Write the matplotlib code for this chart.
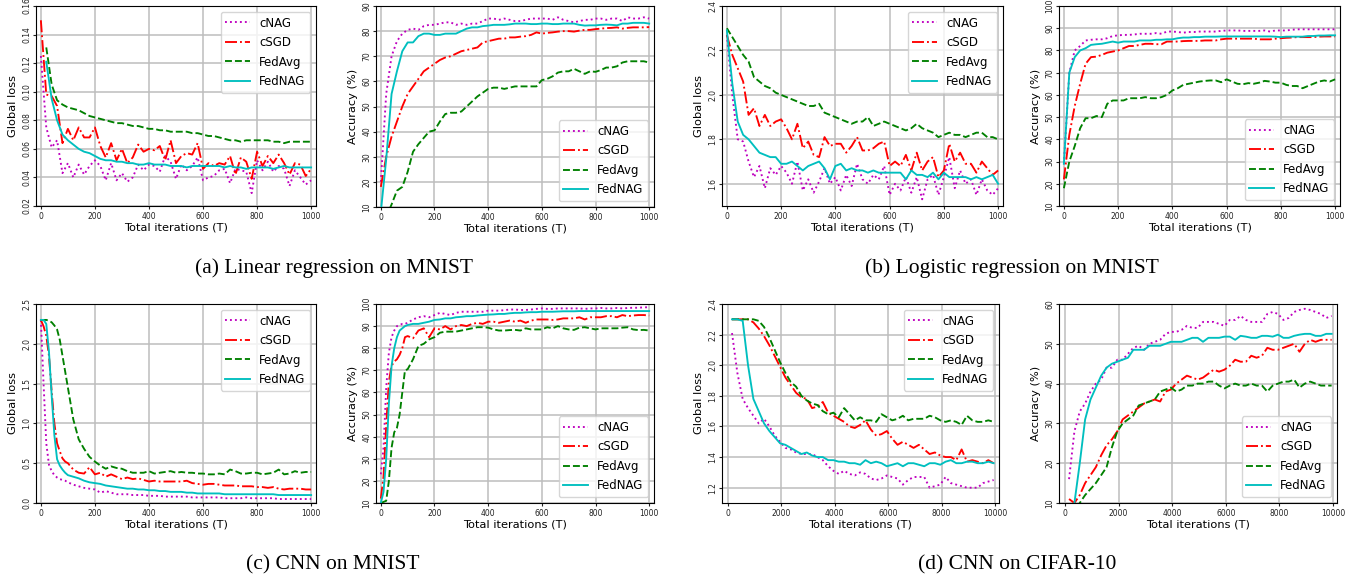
import numpy as np
from matplotlib import pyplot as plt

# Constants
FIG_W, FIG_H = 1358, 582
DPI = 100
LABELS = ['cNAG', 'cSGD', 'FedAvg', 'FedNAG']
STYLES = [':', '-.', '--', '-']
COLORS = ['m', 'r', 'g', 'c']

# x values
X_MNIST = list(range(0, 1001, 20))
X_MNIST_FED = X_MNIST[1:]
X_FINE = list(range(0, 100, 10)) + list(range(100, 1001, 20))
X_CIFAR = list(range(150, 10000, 200))

# (a) Linear regression on MNIST - loss
A_LOSS_CNAG = [0.125, 0.075, 0.061, 0.066, 0.043, 0.050, 0.040, 0.049, 0.042, 0.048,
               0.052, 0.048, 0.038, 0.050, 0.038, 0.043, 0.037, 0.040, 0.049, 0.045,
               0.049, 0.048, 0.044, 0.055, 0.051, 0.039, 0.049, 0.045, 0.048, 0.054,
               0.038, 0.040, 0.041, 0.045, 0.046, 0.036, 0.046, 0.045, 0.044, 0.029,
               0.052, 0.045, 0.051, 0.044, 0.048, 0.046, 0.034, 0.045, 0.040, 0.035,
               0.038]
A_LOSS_CSGD = [0.150, 0.098, 0.097, 0.090, 0.064, 0.074, 0.066, 0.075, 0.068, 0.068,
               0.075, 0.062, 0.054, 0.064, 0.052, 0.060, 0.050, 0.054, 0.063, 0.058,
               0.060, 0.059, 0.062, 0.052, 0.066, 0.050, 0.055, 0.057, 0.056, 0.064,
               0.046, 0.050, 0.048, 0.050, 0.049, 0.055, 0.042, 0.054, 0.051, 0.039,
               0.058, 0.048, 0.055, 0.050, 0.056, 0.050, 0.042, 0.050, 0.049, 0.041,
               0.046]
A_LOSS_FEDAVG = [0.131, 0.105, 0.094, 0.091, 0.089, 0.088, 0.087, 0.085, 0.083, 0.082,
                 0.081, 0.080, 0.079, 0.078, 0.078, 0.077, 0.076, 0.076, 0.075, 0.074,
                 0.074, 0.073, 0.073, 0.072, 0.072, 0.072, 0.072, 0.071, 0.071, 0.070,
                 0.069, 0.069, 0.068, 0.067, 0.066, 0.066, 0.065, 0.066, 0.066, 0.066,
                 0.066, 0.066, 0.065, 0.065, 0.064, 0.065, 0.065, 0.065, 0.065, 0.065]
A_LOSS_FEDNAG = [0.121, 0.095, 0.080, 0.070, 0.066, 0.063, 0.060, 0.058, 0.057, 0.055,
                 0.053, 0.052, 0.052, 0.051, 0.051, 0.050, 0.050, 0.049, 0.049, 0.050,
                 0.049, 0.049, 0.049, 0.048, 0.048, 0.048, 0.047, 0.048, 0.048, 0.048,
                 0.048, 0.048, 0.048, 0.047, 0.048, 0.047, 0.047, 0.046, 0.047, 0.047,
                 0.047, 0.047, 0.046, 0.047, 0.048, 0.047, 0.047, 0.047, 0.047, 0.047]

# (a) Linear regression on MNIST - accuracy
A_ACC_CNAG = [20, 55, 70, 76, 79, 80.5, 81, 80.5, 82, 82.5,
              82.5, 83, 83.5, 83.5, 82.5, 83, 82.5, 83, 83, 84,
              85, 85, 84.5, 85, 84.5, 84, 84, 84.5, 85, 85,
              85, 85, 84.5, 85.5, 84.5, 84, 83.5, 84, 84.5, 84.5,
              85, 85, 84.5, 85, 85, 84, 85.5, 85, 85, 85.5,
              85]
A_ACC_CSGD = [18, 30, 38, 44, 50, 55, 58, 61, 64, 65.5,
              67, 68.5, 69.5, 70, 71, 72, 72.5, 73, 73.5, 75.5,
              76, 76.5, 77, 77, 77.5, 77.5, 77.8, 78, 78.5, 79.5,
              79, 79.3, 79.5, 79.8, 80, 80, 79.8, 80.2, 80.5, 80.5,
              80.8, 81, 81.2, 81.3, 81.5, 81, 81.3, 81.5, 81.5, 81.5,
              81.6]
A_ACC_FEDAVG = [2, 6, 11, 16.5, 18, 24, 32, 35, 37.5, 40,
                40.5, 44, 47, 47.5, 47.5, 48, 50, 52, 54, 55.5,
                57, 57.5, 57.5, 57, 57.5, 58, 58, 58, 58, 58,
                60.5, 61, 62, 63.5, 64, 64, 65, 64, 63, 64,
                63.8, 64.5, 65.5, 65.5, 66, 67.5, 68, 68, 68, 68,
                67.5]
A_ACC_FEDNAG = [8, 29, 55, 64, 72, 75.5, 75.5, 78, 79, 79,
                78.5, 78.5, 79, 79, 79, 80, 81, 81.5, 81.5, 82,
                82.2, 82.5, 82.5, 82.5, 82.7, 83, 83, 83, 82.8, 82.8,
                83, 83, 82.8, 82.8, 83, 83, 83, 82.5, 82.2, 82.3,
                82.3, 82.5, 82.6, 82.5, 82.3, 83, 83, 83.3, 83.3, 83.3,
                83]

# (b) Logistic regression on MNIST - loss
B_LOSS_CNAG = [2.27, 2.00, 1.80, 1.79, 1.70, 1.63, 1.68, 1.58, 1.67, 1.64,
               1.68, 1.65, 1.60, 1.70, 1.57, 1.62, 1.56, 1.61, 1.67, 1.60,
               1.63, 1.57, 1.64, 1.59, 1.69, 1.62, 1.60, 1.64, 1.62, 1.68,
               1.55, 1.60, 1.57, 1.63, 1.56, 1.63, 1.53, 1.62, 1.64, 1.55,
               1.63, 1.72, 1.58, 1.66, 1.60, 1.62, 1.55, 1.62, 1.57, 1.55,
               1.58]
B_LOSS_CSGD = [2.27, 2.18, 2.12, 2.06, 1.91, 1.94, 1.86, 1.91, 1.86, 1.88,
               1.89, 1.85, 1.80, 1.87, 1.76, 1.79, 1.73, 1.72, 1.81, 1.77,
               1.78, 1.78, 1.74, 1.77, 1.81, 1.75, 1.75, 1.76, 1.78, 1.79,
               1.68, 1.70, 1.68, 1.73, 1.66, 1.74, 1.66, 1.70, 1.72, 1.63,
               1.66, 1.78, 1.70, 1.74, 1.69, 1.69, 1.65, 1.70, 1.67, 1.64,
               1.66]
B_LOSS_FEDAVG = [2.30, 2.26, 2.22, 2.18, 2.15, 2.08, 2.06, 2.04, 2.03, 2.01,
                 2.00, 1.99, 1.98, 1.97, 1.96, 1.95, 1.95, 1.96, 1.92, 1.91,
                 1.90, 1.89, 1.88, 1.87, 1.88, 1.88, 1.90, 1.86, 1.87, 1.88,
                 1.87, 1.86, 1.85, 1.84, 1.85, 1.87, 1.85, 1.84, 1.83, 1.81,
                 1.82, 1.83, 1.82, 1.82, 1.81, 1.82, 1.83, 1.83, 1.81, 1.81,
                 1.80]
B_LOSS_FEDNAG = [2.29, 2.05, 1.88, 1.82, 1.80, 1.77, 1.74, 1.73, 1.72, 1.72,
                 1.69, 1.69, 1.70, 1.68, 1.66, 1.68, 1.69, 1.70, 1.67, 1.62,
                 1.68, 1.69, 1.66, 1.67, 1.66, 1.66, 1.65, 1.66, 1.65, 1.65,
                 1.65, 1.65, 1.65, 1.62, 1.66, 1.64, 1.64, 1.63, 1.65, 1.62,
                 1.65, 1.63, 1.63, 1.63, 1.63, 1.62, 1.63, 1.62, 1.63, 1.64,
                 1.60]

# (b) Logistic regression on MNIST - accuracy
B_ACC_CNAG = [29, 70, 80, 82, 84.5, 84.8, 85, 85, 85.5, 86.5,
              86.8, 87, 87, 87.2, 87.5, 87.5, 87.5, 87.8, 87.5, 88.5,
              88.5, 88.3, 88, 88.3, 88.3, 88.5, 88.5, 88.5, 88.5, 88.8,
              89, 89, 89, 88.8, 88.8, 88.8, 88.8, 89, 88.5, 89,
              89, 89, 89.3, 89.5, 89.5, 89.5, 89.5, 89.5, 89.5, 89.5,
              89.5]
B_ACC_CSGD = [22, 42, 55, 65, 74, 77, 77.2, 78, 79, 79.5,
              80, 81, 82, 82, 82.5, 83, 83, 82.8, 82.8, 84,
              84, 84, 84.2, 84.3, 84.3, 84.3, 84.5, 84.5, 84.5, 85,
              85.3, 85.3, 85.3, 85.3, 85.3, 85.3, 85, 85, 85, 85.3,
              85.5, 85.7, 85.8, 86, 86, 86, 86, 86.2, 86.3, 86.3,
              86.3]
B_ACC_FEDAVG = [18, 30, 37, 45, 49.5, 49.5, 50.5, 50, 56, 57.5,
                57.5, 57.5, 58.5, 58.5, 58.5, 59, 58.5, 58.5, 59, 60,
                62, 63, 64.5, 65, 65.5, 66, 66.3, 66.5, 66.5, 65.7,
                67, 66, 65, 64.8, 65.3, 65, 65.5, 66.3, 66, 65.5,
                65.5, 64.5, 64, 64, 63, 64, 65, 66, 66.5, 66,
                67]
B_ACC_FEDNAG = [29, 70, 77, 80, 81, 82.5, 82.8, 83, 83.5, 84,
                83.5, 84, 84, 84, 84.5, 84.5, 84.5, 84.8, 84.8, 85,
                85, 85.5, 85.8, 85.8, 86, 86, 86.2, 86.2, 86.2, 86.3,
                86.3, 86.3, 86.3, 86.3, 86.3, 86.3, 86.3, 86.3, 86.3, 86.2,
                86, 86.2, 86.2, 86.2, 86.2, 86.5, 86.5, 86.7, 86.7, 86.8,
                86.8]

# (c) CNN on MNIST - loss
C_LOSS_CNAG = [2.30, 1.50, 0.75, 0.48, 0.40, 0.35, 0.32, 0.30, 0.29, 0.28,
               0.26, 0.23, 0.21, 0.19, 0.18, 0.17, 0.13, 0.15, 0.13, 0.11,
               0.11, 0.11, 0.10, 0.10, 0.10, 0.09, 0.09, 0.09, 0.08, 0.08,
               0.08, 0.08, 0.08, 0.07, 0.07, 0.07, 0.07, 0.07, 0.07, 0.06,
               0.06, 0.06, 0.06, 0.07, 0.06, 0.06, 0.06, 0.06, 0.06, 0.05,
               0.05, 0.05, 0.05, 0.05, 0.05, 0.05]
C_LOSS_CSGD = [2.30, 2.22, 2.10, 1.85, 1.40, 1.00, 0.75, 0.65, 0.56, 0.52,
               0.50, 0.42, 0.38, 0.37, 0.45, 0.36, 0.38, 0.33, 0.36, 0.33,
               0.30, 0.32, 0.30, 0.31, 0.29, 0.27, 0.28, 0.27, 0.27, 0.27,
               0.27, 0.27, 0.28, 0.25, 0.24, 0.23, 0.24, 0.24, 0.23, 0.22,
               0.22, 0.22, 0.21, 0.21, 0.21, 0.20, 0.20, 0.19, 0.20, 0.18,
               0.17, 0.18, 0.18, 0.18, 0.17, 0.17]
C_LOSS_FEDAVG = [2.30, 2.30, 2.30, 2.29, 2.27, 2.23, 2.18, 2.05, 1.85, 1.65,
                 1.45, 1.05, 0.80, 0.68, 0.58, 0.52, 0.47, 0.43, 0.46, 0.44,
                 0.43, 0.40, 0.38, 0.38, 0.38, 0.40, 0.37, 0.38, 0.39, 0.40,
                 0.38, 0.39, 0.38, 0.38, 0.37, 0.37, 0.36, 0.36, 0.37, 0.36,
                 0.42, 0.40, 0.37, 0.37, 0.38, 0.38, 0.36, 0.37, 0.38, 0.42,
                 0.36, 0.37, 0.40, 0.38, 0.39, 0.39]
C_LOSS_FEDNAG = [2.30, 2.30, 2.25, 1.90, 1.35, 0.85, 0.55, 0.47, 0.42, 0.38,
                 0.35, 0.33, 0.31, 0.28, 0.26, 0.25, 0.24, 0.22, 0.21, 0.20,
                 0.19, 0.18, 0.18, 0.17, 0.17, 0.16, 0.16, 0.15, 0.15, 0.14,
                 0.14, 0.14, 0.13, 0.13, 0.12, 0.12, 0.12, 0.12, 0.12, 0.11,
                 0.11, 0.11, 0.11, 0.11, 0.11, 0.11, 0.11, 0.11, 0.11, 0.10,
                 0.10, 0.10, 0.10, 0.10, 0.10, 0.10]

# (c) CNN on MNIST - accuracy
C_ACC_CNAG = [23, 35, 62, 78, 85, 88, 90, 90.5, 91, 91,
              91.5, 93, 94, 94.5, 94, 95, 96, 95.5, 95, 96,
              96.5, 96.5, 96.5, 96.5, 96.5, 97, 97, 97, 97.2, 97.5,
              97.5, 97.3, 97.3, 97.5, 97.8, 98, 97.8, 97.8, 98, 98,
              98, 98, 98, 97.8, 98, 98, 98.2, 98, 98, 98.2,
              98, 98.2, 98.3, 98.3, 98.5, 98.5]
C_ACC_CSGD = [12, 22, 45, 65, 72, 74, 75, 77, 80, 85,
              85.5, 84.5, 88, 89, 85, 89, 88.5, 90, 88.5, 90,
              90.5, 90, 91, 91.5, 91, 92, 92, 91.5, 92, 92.5,
              92, 92.5, 91.5, 92.5, 93, 93, 93, 92.8, 93, 93.5,
              93.5, 93.5, 94, 93, 94, 94, 94, 94.5, 94.5, 94,
              95, 94.5, 94.8, 95, 95, 94.8]
C_ACC_FEDAVG = [10, 10.5, 11, 20, 35, 42, 44, 50, 60, 70,
                70.5, 75, 81, 82, 84, 85, 87, 87.5, 87.5, 87.5,
                88, 88.5, 89, 89.5, 89.5, 89.3, 88.5, 88, 88, 88.2,
                88.3, 88, 89, 88.5, 88.5, 88.5, 89.5, 89, 90, 89,
                88.5, 88.3, 89.3, 89.5, 89, 88.5, 89, 89, 89, 89,
                89.3, 89.5, 88.5, 88.2, 88.3, 88]
C_ACC_FEDNAG = [10, 15, 30, 55, 72, 80, 85, 88, 89, 90,
                90.5, 91, 91, 91.5, 92, 92.8, 93, 93.5, 93.5, 94,
                94.2, 94.5, 94.5, 94.8, 95, 95.2, 95.3, 95.5, 95.5, 95.8,
                96, 96, 96.2, 96.3, 96.3, 96.5, 96.5, 96.5, 96.6, 96.7,
                96.7, 96.7, 96.8, 96.8, 96.8, 96.8, 96.8, 96.8, 96.8, 96.8,
                96.8, 96.8, 96.8, 96.8, 96.8, 96.8]

# (d) CNN on CIFAR-10 - loss
D_LOSS_CNAG = [2.21, 1.95, 1.78, 1.72, 1.67, 1.62, 1.65, 1.60, 1.54, 1.50,
               1.46, 1.45, 1.43, 1.42, 1.42, 1.42, 1.40, 1.38, 1.34, 1.31,
               1.29, 1.31, 1.29, 1.28, 1.30, 1.29, 1.26, 1.25, 1.26, 1.28,
               1.27, 1.26, 1.22, 1.25, 1.27, 1.27, 1.27, 1.20, 1.21, 1.22,
               1.27, 1.23, 1.22, 1.21, 1.20, 1.20, 1.20, 1.23, 1.24, 1.25]
D_LOSS_CSGD = [2.30, 2.30, 2.30, 2.30, 2.28, 2.24, 2.19, 2.13, 2.06, 1.99,
               1.92, 1.87, 1.82, 1.79, 1.78, 1.72, 1.73, 1.76, 1.69, 1.67,
               1.65, 1.63, 1.60, 1.59, 1.61, 1.64, 1.58, 1.54, 1.55, 1.57,
               1.52, 1.48, 1.50, 1.48, 1.46, 1.48, 1.45, 1.42, 1.43, 1.41,
               1.40, 1.40, 1.38, 1.45, 1.37, 1.38, 1.37, 1.36, 1.38, 1.36]
D_LOSS_FEDAVG = [2.30, 2.30, 2.30, 2.30, 2.30, 2.29, 2.25, 2.18, 2.10, 2.02,
                 1.95, 1.89, 1.86, 1.80, 1.77, 1.75, 1.74, 1.70, 1.68, 1.69,
                 1.66, 1.72, 1.68, 1.64, 1.66, 1.64, 1.64, 1.63, 1.68, 1.66,
                 1.64, 1.65, 1.67, 1.64, 1.65, 1.65, 1.65, 1.67, 1.66, 1.64,
                 1.63, 1.64, 1.63, 1.61, 1.67, 1.64, 1.63, 1.63, 1.64, 1.63]
D_LOSS_FEDNAG = [2.30, 2.30, 2.29, 2.00, 1.78, 1.70, 1.62, 1.57, 1.53, 1.49,
                 1.48, 1.46, 1.44, 1.42, 1.43, 1.41, 1.40, 1.40, 1.38, 1.38,
                 1.37, 1.37, 1.36, 1.36, 1.35, 1.38, 1.36, 1.37, 1.36, 1.34,
                 1.35, 1.36, 1.34, 1.36, 1.36, 1.35, 1.34, 1.36, 1.36, 1.35,
                 1.37, 1.38, 1.36, 1.36, 1.37, 1.37, 1.36, 1.36, 1.37, 1.36]

# (d) CNN on CIFAR-10 - accuracy
D_ACC_CNAG = [16, 28, 33, 35, 38, 40, 41, 44, 44, 46,
              46, 47.5, 49, 49.5, 48.5, 50, 50.5, 51, 52.5, 53,
              53, 53.5, 54.5, 54, 54, 55.5, 55.5, 55.5, 55, 54.5,
              56, 56, 57, 56, 55.5, 55.5, 55.5, 57.5, 58, 57.5,
              56, 56.5, 58, 58.5, 58.8, 58.5, 58, 57.5, 56.5, 57]
D_ACC_CSGD = [11, 10, 12, 15, 17, 19, 22, 24.5, 26, 28,
              31, 32, 33, 34, 35, 35.5, 36, 35.5, 38, 38.5,
              40, 41, 42, 41.5, 41, 41.5, 42.5, 43.5, 43, 43.5,
              44.5, 46, 45.5, 45.5, 47, 46.5, 47, 49, 48.5, 48.5,
              49, 49.5, 50, 48, 50, 51, 50.5, 51, 51, 51]
D_ACC_FEDAVG = [8, 8, 10, 12, 13.5, 15, 17, 19, 24, 28,
                30, 31, 32, 34.5, 35, 35.5, 36, 38, 38.5, 39,
                38, 38.5, 39.5, 39.5, 40, 40, 40.5, 40.5, 39.5, 38.8,
                39.5, 40, 39.5, 39.5, 40, 39.5, 39.5, 38, 39.5, 40,
                40.5, 40.5, 41, 39, 40, 40.5, 40, 39.5, 39.5, 39.5]
D_ACC_FEDNAG = [8, 10, 20, 31, 36, 39, 42, 44, 45, 45.5,
                46, 46.5, 48.5, 48.5, 48.5, 49.5, 49.5, 49.5, 50, 50.5,
                50.5, 50.5, 51, 51.5, 51.5, 50.5, 51.5, 51.5, 51.5, 51.8,
                51.8, 51, 52, 51.8, 51.5, 51.5, 52, 52, 51.8, 52.3,
                51.5, 51.5, 52, 52.3, 52.5, 52.5, 52, 52, 52.5, 52.5]


def add_axes_px(fig, left, top, right, bottom):
    """Adds an axes given its box in pixels from the top left corner"""
    return fig.add_axes([left / FIG_W, 1 - bottom / FIG_H,
                         (right - left) / FIG_W, (bottom - top) / FIG_H])


def draw_panel(ax, xs, series, ylabel, ylim, yticks, xlim, xticks, legend_loc):
    """Draws the four algorithms on one axes"""
    for x, y, label, ls, color in zip(xs, series, LABELS, STYLES, COLORS):
        ax.plot(x, y, linestyle=ls, color=color, lw=1.35, label=label)
    ax.set_xlim(*xlim)
    ax.set_ylim(*ylim)
    ax.set_xticks(xticks)
    ax.set_yticks(yticks)
    ax.grid(True, color='#bdbdbd', lw=1.1)
    ax.set_axisbelow(True)
    ax.tick_params(labelsize=5.5, length=2.5, width=0.8, colors='#222222')
    ax.tick_params(axis='x', pad=2)
    ax.tick_params(axis='y', labelrotation=90, pad=1)
    for lbl in ax.get_yticklabels():
        lbl.set_va('center')
    ax.set_xlabel('Total iterations (T)', fontsize=8.2, labelpad=1)
    ax.set_ylabel(ylabel, fontsize=8.2, labelpad=3)
    ax.legend(loc=legend_loc, fontsize=8.5, handlelength=2.1,
              handletextpad=0.75, borderpad=0.4, borderaxespad=0.5,
              labelspacing=0.55)


fig = plt.figure(figsize=(FIG_W / DPI, FIG_H / DPI), dpi=DPI)

MNIST_XLIM = (-18, 1018)
MNIST_XTICKS = list(range(0, 1001, 200))
CIFAR_XLIM = (-225, 10150)
CIFAR_XTICKS = list(range(0, 10001, 2000))

# Row 1
ax = add_axes_px(fig, 36, 6, 316, 206)
draw_panel(ax, [X_MNIST, X_MNIST, X_MNIST_FED, X_MNIST_FED],
           [A_LOSS_CNAG, A_LOSS_CSGD, A_LOSS_FEDAVG, A_LOSS_FEDNAG],
           'Global loss', (0.02, 0.16), np.arange(0.02, 0.161, 0.02),
           MNIST_XLIM, MNIST_XTICKS, 'upper right')
ax.set_yticklabels(['%.2f' % v for v in np.arange(0.02, 0.161, 0.02)],
                   va='center')

ax = add_axes_px(fig, 376, 6, 654, 207)
draw_panel(ax, [X_MNIST] * 4,
           [A_ACC_CNAG, A_ACC_CSGD, A_ACC_FEDAVG, A_ACC_FEDNAG],
           'Accuracy (%)', (10, 90), range(10, 91, 10),
           MNIST_XLIM, MNIST_XTICKS, 'lower right')

ax = add_axes_px(fig, 722, 6, 1003, 206)
draw_panel(ax, [X_MNIST] * 4,
           [B_LOSS_CNAG, B_LOSS_CSGD, B_LOSS_FEDAVG, B_LOSS_FEDNAG],
           'Global loss', (1.5, 2.4), [1.6, 1.8, 2.0, 2.2, 2.4],
           MNIST_XLIM, MNIST_XTICKS, 'upper right')

ax = add_axes_px(fig, 1059, 6, 1340, 206)
draw_panel(ax, [X_MNIST] * 4,
           [B_ACC_CNAG, B_ACC_CSGD, B_ACC_FEDAVG, B_ACC_FEDNAG],
           'Accuracy (%)', (10, 100), range(10, 101, 10),
           MNIST_XLIM, MNIST_XTICKS, 'lower right')

# Row 2
ax = add_axes_px(fig, 36, 304, 316, 503)
draw_panel(ax, [X_FINE] * 4,
           [C_LOSS_CNAG, C_LOSS_CSGD, C_LOSS_FEDAVG, C_LOSS_FEDNAG],
           'Global loss', (0, 2.5), [0, 0.5, 1.0, 1.5, 2.0, 2.5],
           MNIST_XLIM, MNIST_XTICKS, 'upper right')
ax.set_yticklabels(['0.0', '0.5', '1.0', '1.5', '2.0', '2.5'], va='center')

ax = add_axes_px(fig, 376, 304, 654, 503)
draw_panel(ax, [X_FINE] * 4,
           [C_ACC_CNAG, C_ACC_CSGD, C_ACC_FEDAVG, C_ACC_FEDNAG],
           'Accuracy (%)', (10, 100), range(10, 101, 10),
           MNIST_XLIM, MNIST_XTICKS, 'lower right')

ax = add_axes_px(fig, 722, 304, 999, 503)
draw_panel(ax, [X_CIFAR] * 4,
           [D_LOSS_CNAG, D_LOSS_CSGD, D_LOSS_FEDAVG, D_LOSS_FEDNAG],
           'Global loss', (1.1, 2.4), [1.2, 1.4, 1.6, 1.8, 2.0, 2.2, 2.4],
           CIFAR_XLIM, CIFAR_XTICKS, 'upper right')

ax = add_axes_px(fig, 1059, 304, 1337, 503)
draw_panel(ax, [X_CIFAR] * 4,
           [D_ACC_CNAG, D_ACC_CSGD, D_ACC_FEDAVG, D_ACC_FEDNAG],
           'Accuracy (%)', (10, 60), range(10, 61, 10),
           CIFAR_XLIM, CIFAR_XTICKS, 'lower right')

# Captions
captions = [('(a) Linear regression on MNIST', 334, 268),
            ('(b) Logistic regression on MNIST', 1012, 268),
            ('(c) CNN on MNIST', 333, 565),
            ('(d) CNN on CIFAR-10', 1017, 565)]
for text, cx, cy in captions:
    fig.text(cx / FIG_W, 1 - cy / FIG_H, text, ha='center', va='center',
             fontsize=15.5, family='Liberation Serif')

fig.savefig('out.png', dpi=DPI)
